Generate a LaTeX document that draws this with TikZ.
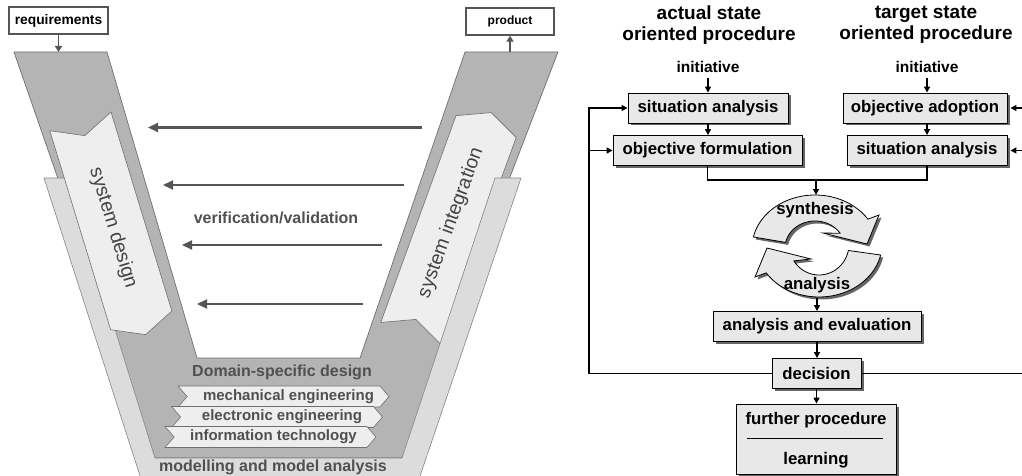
\documentclass[tikz,border=0pt]{standalone}
\usepackage{fontspec}
\setmainfont{Liberation Sans}
\usetikzlibrary{positioning,calc,arrows.meta,shapes.symbols,shadows}

\definecolor{vdark}{HTML}{B4B4B4}
\definecolor{vlight}{HTML}{DCDCDC}
\definecolor{vpale}{HTML}{EEEEEE}
\definecolor{vedge}{HTML}{707070}
\definecolor{vtext}{HTML}{505050}
\definecolor{varrowc}{HTML}{555555}
\definecolor{boxfill}{HTML}{E8E8E8}

\tikzset{
	flow/.style={line width=1.5pt,-{Triangle[length=6pt,width=6pt]}},
	conn/.style={line width=1.5pt},
	stepshadow/.style={drop shadow={shadow xshift=2.5pt,shadow yshift=-2.5pt,fill=black!60,opacity=1}}
}

\begin{document}
\begin{tikzpicture}[x=1pt,y=-1pt,
	vdarkband/.style={fill=vdark,draw=vedge,line width=0.7pt},
	vlightband/.style={fill=vlight,draw=vedge!85,line width=0.6pt},
	phasebox/.style={signal,signal to=east,signal from=west,signal pointer angle=130,fill=vpale,draw=vedge,line width=0.6pt,minimum height=64pt,inner sep=0pt,text=vtext!85!black,font=\fontsize{19.5}{22}\selectfont},
	domainbox/.style={signal,signal to=east,signal from=west,signal pointer angle=98,fill=vpale,draw=vedge,line width=0.6pt,minimum height=21pt,minimum width=211pt,inner sep=0pt,text=vtext,font=\fontsize{15}{17}\bfseries\selectfont},
	vlabel/.style={text=vtext,font=\fontsize{16}{18}\bfseries\selectfont},
	varrow/.style={draw=varrowc,line width=2.2pt,-{Triangle[length=10pt,width=9pt]}},
	iobox/.style={draw=varrowc,fill=white,line width=1.3pt,minimum height=27pt,inner sep=0pt},
	ioarrow/.style={draw=varrowc,line width=1.5pt,-{Triangle[length=6pt,width=7pt]}},
	stepbox/.style={draw=black,fill=boxfill,line width=0.9pt,minimum height=30pt,inner sep=2pt,stepshadow,font=\fontsize{16.8}{19}\bfseries\selectfont},
	steptext/.style={font=\fontsize{16.8}{19}\bfseries\selectfont,inner sep=1pt},
	titletext/.style={align=center,font=\fontsize{19}{20.5}\bfseries\selectfont},
	initext/.style={inner sep=5pt,font=\fontsize{15.5}{17}\bfseries\selectfont},
	cyclearrow/.style={fill=boxfill,draw=black,line width=0.8pt,stepshadow}
]
	\useasboundingbox (0,0) rectangle (1022,476);
	
	% V model
	\draw[vdarkband] (14,52) -- (107,52) -- (197,358) -- (360,358) -- (465,52) -- (558,52) -- (402,458) -- (155,458) -- cycle;
	\node[phasebox,rotate=70,minimum width=235pt] (sysint) at (451,223) {system integration};
	\draw[vlightband] (44,178) -- (68,178) -- (155,458) -- (402,458) -- (495,178) -- (521,178) -- (418,482) -- (142,482) -- cycle;
	\node[phasebox,rotate=-73,minimum width=223pt] (sysdes) at (113,228) {system design};
	
	\node[vlabel] (domain) at (282,372) {Domain-specific design};
	\node[domainbox] (mech) at (283.5,396.5) {\hspace*{10pt}mechanical engineering};
	\node[domainbox] (elec) at (277,417) {\hspace*{10pt}electronic engineering};
	\node[domainbox] (info) at (270.5,437) {\hspace*{6pt}information technology};
	\node[vlabel] (model) at (273,467) {modelling and model analysis};
	
	\foreach \y/\xs/\xe [count=\i] in {127.5/422/148, 185/404/163, 245/382/182, 304/363/197}{
		\coordinate (vs\i) at (\xs,\y);
		\coordinate (ve\i) at (\xe,\y);
		\draw[varrow] (vs\i) -- (ve\i);
	}
	\node[vlabel] (verval) at (276,218) {verification/validation};
	
	\node[iobox,minimum width=99pt,font=\fontsize{13.8}{15}\bfseries\selectfont] (req) at (58.5,20.5) {requirements};
	\node[iobox,minimum width=88pt,font=\fontsize{12}{14}\bfseries\selectfont] (prod) at (510,21.5) {product};
	\coordinate (reqIn) at (58.5,52);
	\coordinate (prodOut) at (510,52);
	\draw[ioarrow] (req.south) -- (reqIn);
	\draw[ioarrow] (prodOut) -- (prod.south);
	
	% procedures
	\node[titletext] (ttlA) at (709,25) {actual state\\oriented procedure};
	\node[titletext] (ttlB) at (926,25) {target state\\oriented procedure};
	\node[initext] (iniA) at (708,67) {initiative};
	\node[initext] (iniB) at (927,67) {initiative};
	
	\node[stepbox,minimum width=160pt] (sitA) at (708,108) {situation analysis};
	\node[stepbox,minimum width=189pt] (objF) at (707.5,150.5) {objective formulation};
	\node[stepbox,minimum width=164pt] (objA) at (925,108) {objective adoption};
	\node[stepbox,minimum width=160pt] (sitB) at (927,150.5) {situation analysis};
	
	\draw[flow] (iniA) -- (iniA |- sitA.north);
	\draw[flow] (iniB) -- (iniB |- objA.north);
	\draw[flow] (sitA) -- (sitA |- objF.north);
	\draw[flow] (iniB |- objA.south) -- (iniB |- sitB.north);
	
	\coordinate (merge) at (816,180);
	\coordinate (synTop) at (816,195);
	\draw[conn] (objF.south) -- (objF.south |- merge) -- (sitB.south |- merge) -- (sitB.south);
	\draw[flow] (merge) -- (synTop);
	
	% synthesis / analysis cycle
	\draw[cyclearrow] plot[domain=192:327,samples=40,variable=\t] ({815+63*cos(\t)},{248+53*sin(\t)})
		-- (879,215) -- (867,244) -- (823,233)
		-- plot[domain=327:192,samples=40,variable=\t] ({815+30*cos(\t)},{248+27*sin(\t)}) -- cycle;
	\draw[cyclearrow] plot[domain=12:147,samples=40,variable=\t] ({819+63*cos(\t)},{244+53*sin(\t)})
		-- (755,277) -- (767,248) -- (811,259)
		-- plot[domain=147:12,samples=40,variable=\t] ({819+30*cos(\t)},{244+31*sin(\t)}) -- cycle;
	\node[steptext] (synth) at (815,210) {synthesis};
	\node[steptext] (anal) at (817,285) {analysis};
	\coordinate (anaBot) at (817,298);
	
	\node[stepbox,minimum width=208pt] (evalu) at (817,326.5) {analysis and evaluation};
	\node[stepbox,minimum width=89pt] (decis) at (816.5,373.5) {decision};
	\node[stepbox,minimum width=160pt,minimum height=70pt] (furth) at (816,439) {};
	\node[steptext] (furthA) at (816,420) {further procedure};
	\node[steptext] (learn) at (816,460) {learning};
	\draw[line width=0.8pt] ([xshift=11pt,yshift=1pt]furth.west) -- ([xshift=-13pt,yshift=1pt]furth.east);
	
	\draw[flow] (anaBot) -- (anaBot |- evalu.north);
	\draw[flow] (evalu) -- (evalu |- decis.north);
	\draw[flow] (decis) -- (decis |- furth.north);
	
	% feedback
	\coordinate (fbL) at (589,373.5);
	\coordinate (fbR) at (1024,373.5);
	\draw[flow] (decis.west) -- (fbL) |- (sitA.west);
	\draw[flow] (fbL |- objF.west) -- (objF.west);
	\draw[flow] (decis.east) -- (fbR) |- ([xshift=3pt]objA.east);
	\draw[flow] (fbR |- sitB.east) -- ([xshift=3pt]sitB.east);
	
\end{tikzpicture}
\end{document}
